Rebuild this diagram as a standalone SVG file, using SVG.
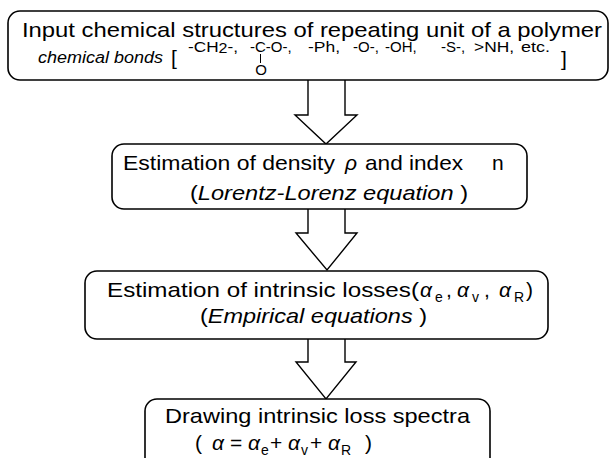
<svg xmlns="http://www.w3.org/2000/svg" width="610" height="458" viewBox="0 0 610 458">
<style>
.box{fill:#fff;stroke:#000;stroke-width:1.6}
.arr{fill:#fff;stroke:#000;stroke-width:1.4;stroke-linejoin:miter}
text{font-family:"Liberation Sans",Arial,sans-serif;fill:#000}
.m{font-size:21px}
.s{font-size:15px}
.sub{font-size:14px}
.i{font-style:italic}
</style>
<rect width="610" height="458" fill="#fff"/>
<g id="connectors">
<polyline class="arr" points="308,80 308,115 295,115 326,144 357,115 345,115 345,80"/>
<polyline class="arr" points="308,209 308,233 296,233 327,270 357,233 345,233 345,209"/>
<polyline class="arr" points="308,339 308,362 296,362 326,399 356,362 345,362 345,339"/>
</g>
<g id="node1">
<rect class="box" x="8" y="11" width="600" height="69" rx="12"/>
<text class="m" x="22" y="37" textLength="580" lengthAdjust="spacingAndGlyphs">Input  chemical structures of repeating unit of a polymer</text>
<text class="i" x="38" y="63" font-size="16" textLength="125" lengthAdjust="spacingAndGlyphs">chemical bonds</text>
<text x="171" y="65" font-size="21">[</text>
<text class="s" x="188" y="52" textLength="50" lengthAdjust="spacingAndGlyphs">-CH<tspan font-size="14" dy="1">2</tspan><tspan dy="-1">-,</tspan></text>
<text class="s" x="250" y="52">-C-O-,</text>
<line x1="260.5" y1="54" x2="260.5" y2="63" stroke="#000" stroke-width="1"/>
<text class="s" x="261" y="75" text-anchor="middle">O</text>
<text class="s" x="308" y="52" textLength="32" lengthAdjust="spacingAndGlyphs">-Ph,</text>
<text class="s" x="353" y="52">-O-,</text>
<text class="s" x="385" y="52">-OH,</text>
<text class="s" x="441" y="52">-S-,</text>
<text class="s" x="474" y="52" textLength="40" lengthAdjust="spacingAndGlyphs">&gt;NH,</text>
<text class="s" x="521" y="52" textLength="29" lengthAdjust="spacingAndGlyphs">etc.</text>
<text x="561" y="66" font-size="21">]</text>
</g>
<g id="node2">
<rect class="box" x="112" y="144" width="415" height="65" rx="12"/>
<text class="m" x="123" y="170" textLength="212" lengthAdjust="spacingAndGlyphs">Estimation of density</text>
<text class="m i" x="345" y="170">ρ</text>
<text class="m" x="365" y="170" textLength="98" lengthAdjust="spacingAndGlyphs">and index</text>
<text class="m" x="492" y="170">n</text>
<text class="m" x="190" y="200" textLength="278" lengthAdjust="spacingAndGlyphs">(<tspan class="i">Lorentz-Lorenz equation</tspan> )</text>
</g>
<g id="node3">
<rect class="box" x="85" y="271" width="463" height="68" rx="12"/>
<text class="m" x="107" y="297" textLength="312" lengthAdjust="spacingAndGlyphs">Estimation of intrinsic losses(</text>
<text class="m"><tspan class="i" x="420" y="297">α</tspan><tspan class="sub" x="435" y="302">e</tspan><tspan x="446" y="297">,</tspan><tspan class="i" x="457" y="297">α</tspan><tspan class="sub" x="472" y="302">v</tspan><tspan x="484" y="297">,</tspan><tspan class="i" x="499" y="297">α</tspan><tspan class="sub" x="514" y="302">R</tspan><tspan x="526" y="297">)</tspan></text>
<text class="m" x="200" y="323" textLength="227" lengthAdjust="spacingAndGlyphs">(<tspan class="i">Empirical equations</tspan> )</text>
</g>
<g id="node4">
<rect class="box" x="145" y="399" width="345" height="80" rx="12"/>
<text class="m" x="165" y="423" textLength="305" lengthAdjust="spacingAndGlyphs">Drawing intrinsic loss spectra</text>
<text class="m"><tspan x="195" y="450">(</tspan><tspan class="i" x="212" y="450">α</tspan><tspan x="230" y="450">=</tspan><tspan class="i" x="248" y="450">α</tspan><tspan class="sub" x="261" y="455">e</tspan><tspan x="270" y="450">+</tspan><tspan class="i" x="288" y="450">α</tspan><tspan class="sub" x="301" y="455">v</tspan><tspan x="310" y="450">+</tspan><tspan class="i" x="328" y="450">α</tspan><tspan class="sub" x="341" y="455">R</tspan><tspan x="365" y="450">)</tspan></text>
</g>
</svg>
